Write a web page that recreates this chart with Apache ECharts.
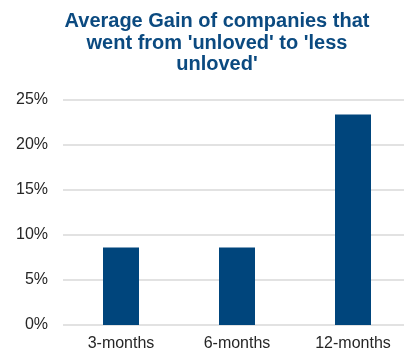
<!DOCTYPE html>
<html><head><meta charset="utf-8">
<script src="https://cdn.jsdelivr.net/npm/echarts@6/dist/echarts.min.js"></script>
<style>html,body{margin:0;padding:0;background:#fff}#c{width:404px;height:354px}</style>
</head><body><div id="c"></div>
<script>
const categories = ['3-months', '6-months', '12-months'];
const gains = [8.6, 8.6, 23.4];
const yTicks = [0, 5, 10, 15, 20, 25];
const titleText = "Average Gain of companies that\nwent from 'unloved' to 'less\nunloved'";

const chart = echarts.init(document.getElementById('c'), null, {renderer: 'canvas'});
chart.setOption({
  animation: false,
  title: {
    text: titleText,
    left: 212, top: 6, textAlign: 'center',
    textStyle: {fontFamily: 'Liberation Sans, Arial', fontWeight: 'bold', fontSize: 20, lineHeight: 21.5, color: '#0b4a80'}
  },
  grid: {left: 63, width: 348, top: 100, height: 225, containLabel: false, outerBoundsMode: 'none'},
  xAxis: {
    type: 'category', data: categories,
    axisLine: {show: false}, axisTick: {show: false},
    axisLabel: {fontFamily: 'Liberation Sans, Arial', fontSize: 16, color: '#262626', margin: 11}
  },
  yAxis: {
    type: 'value', min: yTicks[0], max: yTicks[yTicks.length - 1], interval: 5,
    axisLine: {show: false}, axisTick: {show: false},
    splitLine: {lineStyle: {color: '#d9d9d9', width: 1.5}},
    axisLabel: {fontFamily: 'Liberation Sans, Arial', fontSize: 16, color: '#262626', margin: 15, formatter: v => v + '%'}
  },
  series: [{
    type: 'bar', data: gains, barWidth: 36,
    itemStyle: {color: '#00457c'}
  }]
});
</script></body></html>
